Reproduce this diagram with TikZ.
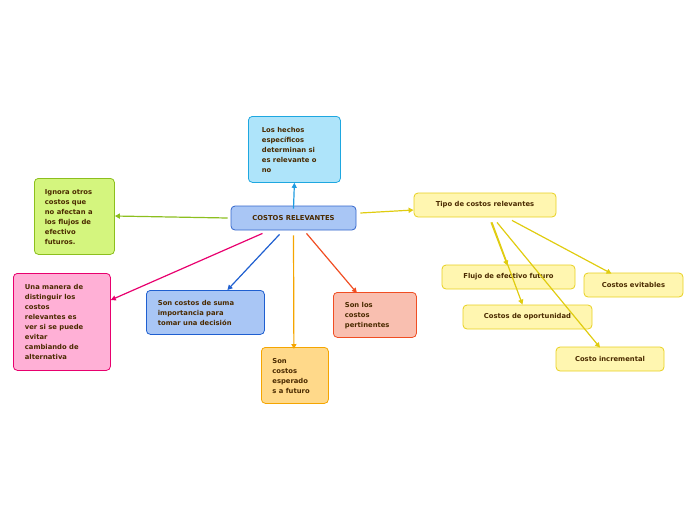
\documentclass[tikz,border=0pt]{standalone}
\usepackage{fontspec}
\setmainfont{DejaVu Sans}
\usetikzlibrary{arrows.meta,calc}
\definecolor{txt}{HTML}{4A2A00}
\definecolor{cbf}{HTML}{A9C6F5}\definecolor{cbd}{HTML}{3366CC}
\definecolor{tf}{HTML}{AEE4FA}\definecolor{td}{HTML}{1EA7E0}\definecolor{ta}{HTML}{1E9BE0}
\definecolor{gf}{HTML}{D4F57E}\definecolor{gd}{HTML}{8CBF1E}
\definecolor{pf}{HTML}{FFB0D6}\definecolor{pd}{HTML}{E8006E}
\definecolor{bd}{HTML}{1F5FD0}
\definecolor{of}{HTML}{FFD98A}\definecolor{od}{HTML}{F5A500}
\definecolor{sf}{HTML}{F9BFB0}\definecolor{sd}{HTML}{F04E23}
\definecolor{yf}{HTML}{FFF6B0}\definecolor{yd}{HTML}{E8D020}\definecolor{ya}{HTML}{E0CC10}
\tikzset{
 box/.style={draw, line width=0.8pt, rounded corners=4pt, font=\fontsize{6.8}{10}\selectfont\bfseries, text=txt, align=left, anchor=north west, inner sep=0pt},
 con/.style={line width=1.2pt, -{Triangle[length=5pt,width=5pt]}}
}
\newcommand{\boxtxt}[3]{\hspace*{#1}\begin{minipage}[t]{#2}\vspace*{1pt}#3\end{minipage}}
\begin{document}
\begin{tikzpicture}[x=1pt,y=-1pt]
\useasboundingbox (0,0) rectangle (696,520);
\node[box, fill=cbf, draw=cbd, minimum width=125, minimum height=24, align=center, anchor=center] (c) at (293.5,218) {COSTOS RELEVANTES};
\node[box, fill=tf, draw=td, minimum width=92, minimum height=66] (t) at (248,116) {\boxtxt{10pt}{75pt}{Los hechos\\específicos\\determinan si\\es relevante o\\no}};
\node[box, fill=gf, draw=gd, minimum width=80, minimum height=76] (g) at (34,178) {\boxtxt{9pt}{68pt}{Ignora otros\\costos que\\no afectan a\\los flujos de\\efectivo\\futuros.}};
\node[box, fill=pf, draw=pd, minimum width=97, minimum height=97] (p) at (13,273) {\boxtxt{10pt}{84pt}{Una manera de\\distinguir los\\costos\\relevantes es\\ver si se puede\\evitar\\cambiando de\\alternativa}};
\node[box, fill=cbf, draw=bd, minimum width=118, minimum height=44] (b) at (146,290) {\boxtxt{10pt}{105pt}{Son costos de suma\\importancia para\\tomar una decisión}};
\node[box, fill=of, draw=od, minimum width=67, minimum height=56] (o) at (261,347) {\boxtxt{10pt}{55pt}{Son\\costos\\esperado\\s a futuro}};
\node[box, fill=sf, draw=sd, minimum width=83, minimum height=45] (s) at (333,292) {\boxtxt{10pt}{70pt}{Son los\\costos\\pertinentes}};
\tikzset{ybox/.style={box, fill=yf, draw=yd, minimum height=24, align=center, anchor=center}}
\node[ybox, minimum width=142] (tp) at (485,205) {Tipo de costos relevantes};
\node[ybox, minimum width=133] (f) at (508.5,277) {Flujo de efectivo futuro};
\node[ybox, minimum width=99] (ev) at (633.5,285) {Costos evitables};
\node[ybox, minimum width=129] (op) at (527.5,317) {Costos de oportunidad};
\node[ybox, minimum width=108] (ci) at (610,359) {Costo incremental};
\draw[con, color=ta] ([yshift=-3pt]c.north) -- (t.south);
\draw[con, color=gd] ([xshift=-3pt]c.west) -- (g.east |- 0,216);
\draw[con, color=pd] ($(c.south)+(-31,3)$) -- (p.east |- 0,300);
\draw[con, color=bd] ($(c.south)+(-14,4)$) -- ($(b.north)+(22,0)$);
\draw[con, color=od] ($(c.south)+(0,5)$) -- ($(o.north)+(-1,2)$);
\draw[con, color=sd] ($(c.south)+(13,3)$) -- ($(s.north)+(-18,1)$);
\draw[con, color=ya] ($(c.east)+(4,-5)$) -- ($(tp.west)+(0,5)$);
\draw[con, color=ya] ($(tp.south)+(6,5)$) -- ($(f.north)+(-1,1)$);
\draw[con, color=ya] ($(tp.south)+(7,5)$) -- ($(op.north)+(-5,0)$);
\draw[con, color=ya] ($(tp.south)+(12,5)$) -- ($(ci.north)+(-10,1)$);
\draw[con, color=ya] ($(tp.south)+(27,3)$) -- ($(ev.north)+(-22,1)$);
\end{tikzpicture}
\end{document}
